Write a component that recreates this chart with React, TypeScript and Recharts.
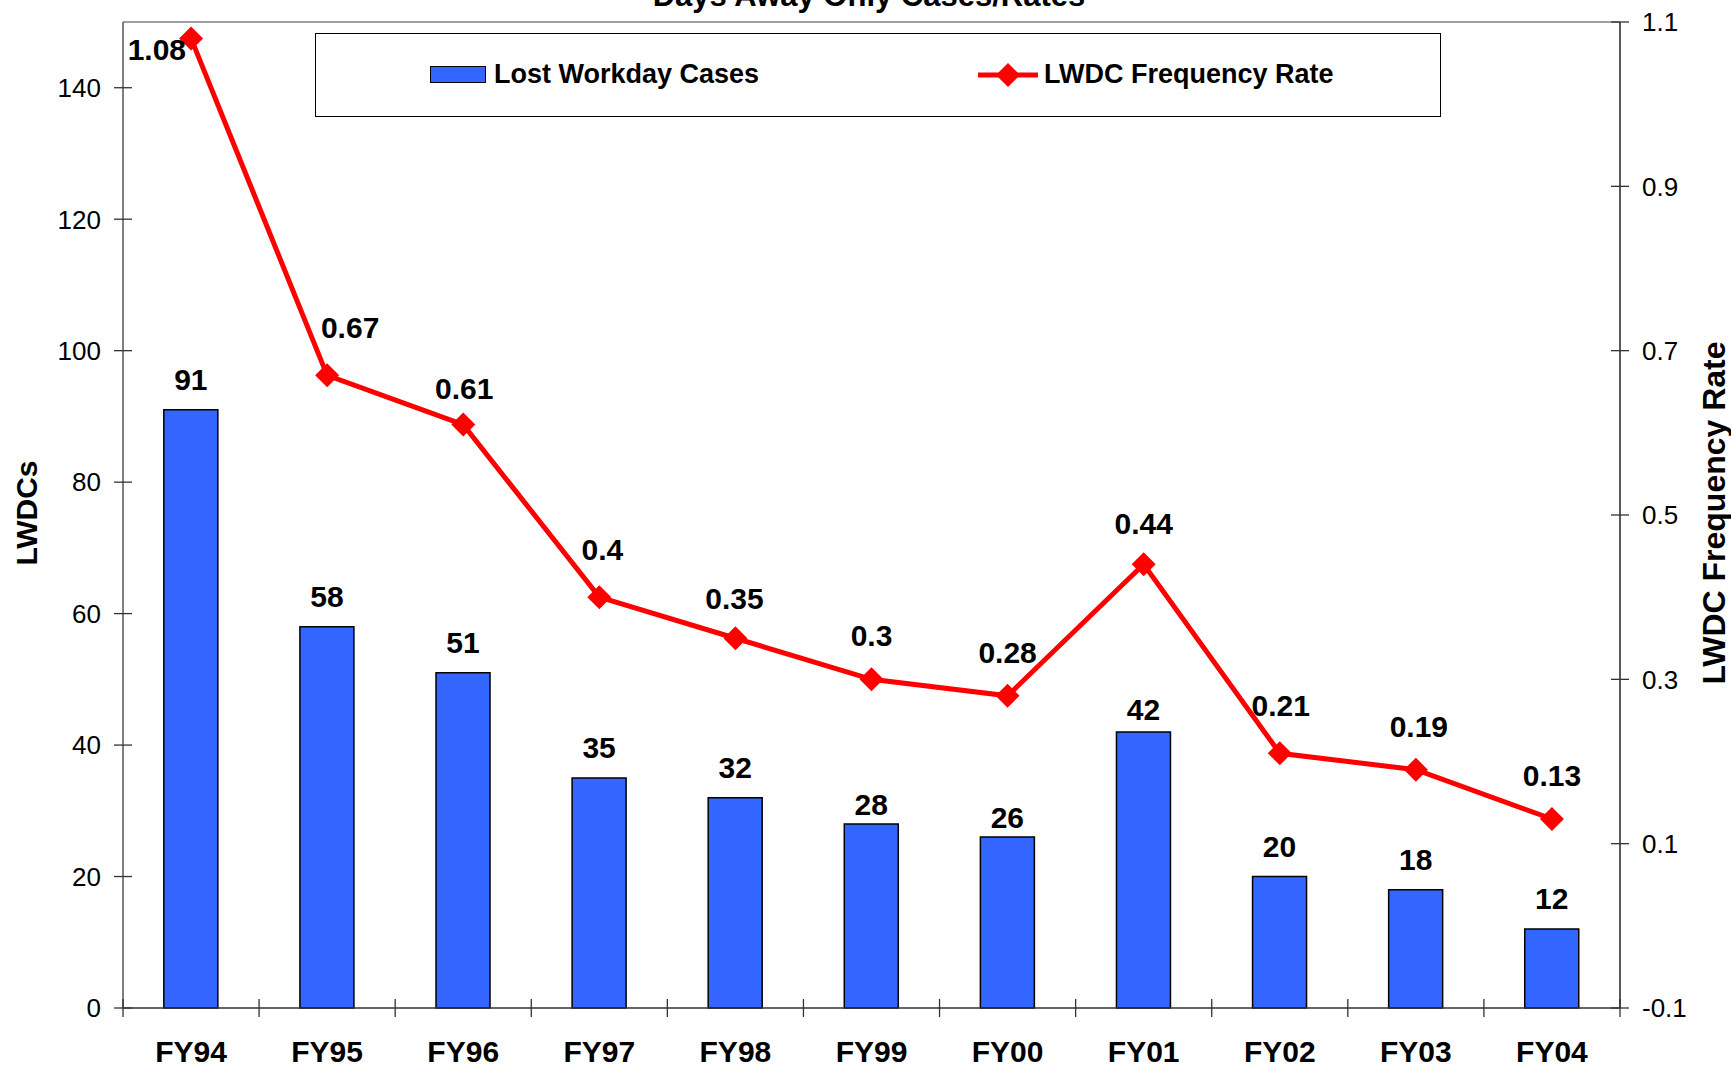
import React from 'react';
import {
  ComposedChart,
  Bar,
  Line,
  XAxis,
  YAxis,
  Legend,
  LabelList,
  ReferenceLine,
  Customized,
} from 'recharts';

const years = ['FY94', 'FY95', 'FY96', 'FY97', 'FY98', 'FY99', 'FY00', 'FY01', 'FY02', 'FY03', 'FY04'];
const lostWorkdayCases = [91, 58, 51, 35, 32, 28, 26, 42, 20, 18, 12];
const frequencyRate = [1.08, 0.67, 0.61, 0.4, 0.35, 0.3, 0.28, 0.44, 0.21, 0.19, 0.13];
const leftTicks = [0, 20, 40, 60, 80, 100, 120, 140];
const rightTicks = [-0.1, 0.1, 0.3, 0.5, 0.7, 0.9, 1.1];

const data = years.map((year, i) => ({
  year,
  cases: lostWorkdayCases[i],
  rate: frequencyRate[i],
}));

const FONT = 'Arial, "Liberation Sans", Helvetica, sans-serif';
const W = 1731;
const H = 1068;
const PLOT_LEFT = 123;
const PLOT_RIGHT = 1620;
const STEP = (PLOT_RIGHT - PLOT_LEFT) / years.length;

// small label nudges, like the hand-placed labels in the original
const barLabelShift: Record<number, number> = { 5: 11, 6: 11, 7: 8 };
const rateLabelShift: Record<number, [number, number]> = {
  1: [23, -4],
  2: [1, 7],
  3: [3, -4],
  4: [-1, 4],
  7: [0, 3],
  8: [1, -4],
  9: [3, 0],
};

const XTick = (props: any) => {
  const { x, y, payload, index } = props;
  return (
    <g>
      <line x1={x - STEP / 2} x2={x - STEP / 2} y1={y - 9} y2={y + 9} stroke="#333" strokeWidth={1.3} />
      {index === years.length - 1 && (
        <line x1={x + STEP / 2} x2={x + STEP / 2} y1={y - 9} y2={y + 9} stroke="#333" strokeWidth={1.3} />
      )}
      <text x={x} y={y + 54} textAnchor="middle" fontFamily={FONT} fontWeight="bold" fontSize={30} fill="#000">
        {payload.value}
      </text>
    </g>
  );
};

const LeftTick = (props: any) => {
  const { x, y, payload } = props;
  return (
    <g>
      <line x1={x - 9} x2={x + 9} y1={y} y2={y} stroke="#333" strokeWidth={1.3} />
      <text x={x - 22} y={y} dy="0.36em" textAnchor="end" fontFamily={FONT} fontSize={26} fill="#000">
        {payload.value}
      </text>
    </g>
  );
};

const RightTick = (props: any) => {
  const { x, y, payload } = props;
  return (
    <g>
      <line x1={x - 9} x2={x + 9} y1={y} y2={y} stroke="#333" strokeWidth={1.3} />
      <text x={x + 22} y={y} dy="0.36em" textAnchor="start" fontFamily={FONT} fontSize={26} fill="#000">
        {payload.value}
      </text>
    </g>
  );
};

const Diamond = (props: any) => {
  const { cx, cy } = props;
  if (cx == null || cy == null) return null;
  const r = 12;
  return <polygon points={`${cx},${cy - r} ${cx + r},${cy} ${cx},${cy + r} ${cx - r},${cy}`} fill="#FF0000" />;
};

const BarLabel = (props: any) => {
  const { x, y, width, value, index } = props;
  const dy = barLabelShift[index] || 0;
  return (
    <text x={x + width / 2} y={y - 20 + dy} textAnchor="middle" fontFamily={FONT} fontWeight="bold" fontSize={30} fill="#000">
      {value}
    </text>
  );
};

const RateLabel = (props: any) => {
  const { x, y, value, index } = props;
  if (index === 0) {
    return (
      <text x={x - 5} y={y + 22} textAnchor="end" fontFamily={FONT} fontWeight="bold" fontSize={30} fill="#000">
        {value}
      </text>
    );
  }
  const [dx, dy] = rateLabelShift[index] || [0, 0];
  return (
    <text x={x + dx} y={y - 33 + dy} textAnchor="middle" fontFamily={FONT} fontWeight="bold" fontSize={30} fill="#000">
      {value}
    </text>
  );
};

const renderLegend = () => (
  <div
    style={{
      boxSizing: 'border-box',
      width: 1126,
      height: 84,
      border: '1.5px solid #000',
      position: 'relative',
      fontFamily: FONT,
      fontWeight: 'bold',
      fontSize: 27,
      background: '#fff',
    }}
  >
    <div style={{ position: 'absolute', left: 114, top: 32, width: 56, height: 17, background: '#3366FF', border: '1.5px solid #000', boxSizing: 'border-box' }} />
    <div style={{ position: 'absolute', left: 178, top: 25, lineHeight: '30px' }}>Lost Workday Cases</div>
    <svg style={{ position: 'absolute', left: 660, top: 28 }} width={64} height={26}>
      <line x1={2} x2={62} y1={13} y2={13} stroke="#FF0000" strokeWidth={5} />
      <polygon points="32,1 44,13 32,25 20,13" fill="#FF0000" />
    </svg>
    <div style={{ position: 'absolute', left: 728, top: 25, lineHeight: '30px' }}>LWDC Frequency Rate</div>
  </div>
);

const Titles = () => (
  <g>
    <text x={869} y={6} textAnchor="middle" fontFamily={FONT} fontWeight="bold" fontSize={31} fill="#000">
      Days Away Only Cases/Rates
    </text>
    <text
      x={26}
      y={513}
      transform="rotate(-90 26 513)"
      textAnchor="middle"
      dy="0.36em"
      fontFamily={FONT}
      fontWeight="bold"
      fontSize={30}
      fill="#000"
    >
      LWDCs
    </text>
    <text
      x={1713}
      y={513}
      transform="rotate(-90 1713 513)"
      textAnchor="middle"
      dy="0.36em"
      fontFamily={FONT}
      fontWeight="bold"
      fontSize={32}
      fill="#000"
    >
      LWDC Frequency Rate
    </text>
  </g>
);

export default function App() {
  return (
    <div style={{ position: 'absolute', left: 0, top: 0, width: W, height: H, background: '#fff' }}>
      <ComposedChart width={W} height={H} data={data} margin={{ top: 22, right: 11, bottom: 0, left: 23 }} barCategoryGap="30%">
        <XAxis
          dataKey="year"
          height={60}
          axisLine={{ stroke: '#333', strokeWidth: 1.5 }}
          tickLine={false}
          tickSize={0}
          tickMargin={0}
          tick={<XTick />}
          interval={0}
        />
        <YAxis
          yAxisId="left"
          width={100}
          domain={[0, 150]}
          ticks={leftTicks}
          axisLine={{ stroke: '#555', strokeWidth: 1.5 }}
          tickLine={false}
          tickSize={0}
          tickMargin={0}
          tick={<LeftTick />}
          interval={0}
        />
        <YAxis
          yAxisId="right"
          orientation="right"
          width={100}
          domain={[-0.1, 1.1]}
          ticks={rightTicks}
          axisLine={{ stroke: '#222', strokeWidth: 1.5 }}
          tickLine={false}
          tickSize={0}
          tickMargin={0}
          tick={<RightTick />}
          interval={0}
        />
        <ReferenceLine yAxisId="left" y={150} stroke="#808080" strokeWidth={1.5} />
        <Legend
          layout="horizontal"
          verticalAlign="middle"
          align="center"
          content={renderLegend}
          wrapperStyle={{ top: 33, left: 315, width: 1126, height: 84 }}
        />
        <Bar yAxisId="left" dataKey="cases" name="Lost Workday Cases" fill="#3366FF" stroke="#000" strokeWidth={1.5} isAnimationActive={false}>
          <LabelList dataKey="cases" content={<BarLabel />} />
        </Bar>
        <Line
          yAxisId="right"
          dataKey="rate"
          name="LWDC Frequency Rate"
          stroke="#FF0000"
          strokeWidth={5}
          dot={<Diamond />}
          activeDot={false}
          isAnimationActive={false}
        >
          <LabelList dataKey="rate" content={<RateLabel />} />
        </Line>
        <Customized component={Titles} />
      </ComposedChart>
    </div>
  );
}
